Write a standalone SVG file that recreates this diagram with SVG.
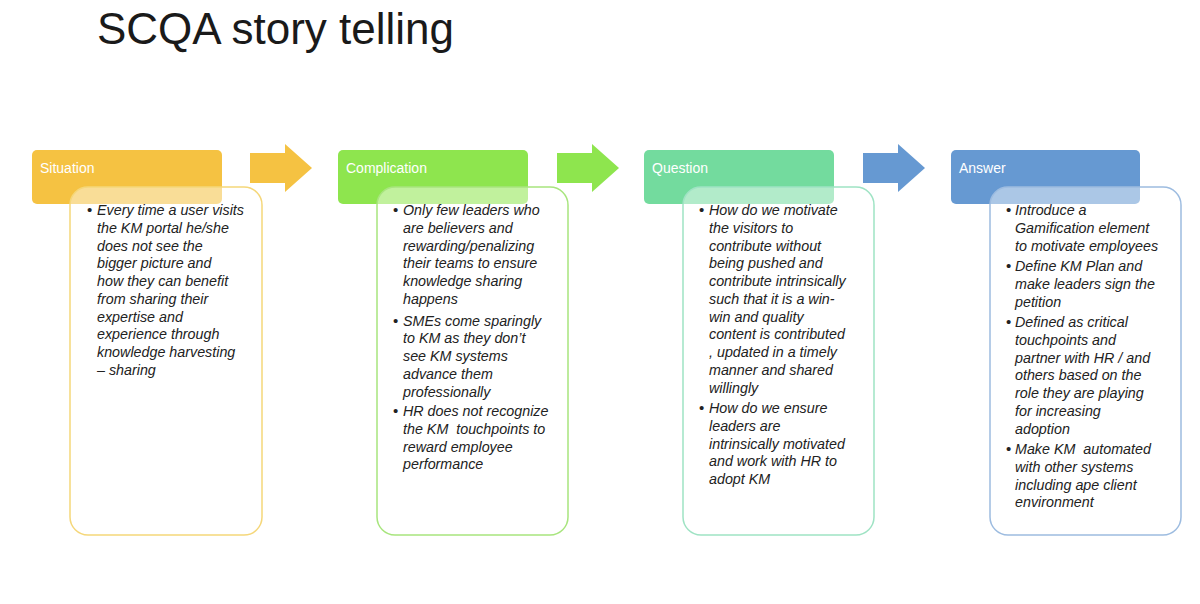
<svg xmlns="http://www.w3.org/2000/svg" width="1200" height="604" viewBox="0 0 1200 604">
<style>
.title{font-family:"Liberation Sans",Arial,sans-serif;font-size:44px;fill:#1a1a1a}
.hdr{font-family:"Liberation Sans",Arial,sans-serif;font-size:14px;fill:#ffffff}
.body{font-family:"Liberation Sans",Arial,sans-serif;font-size:14.3px;font-style:italic;fill:#222222;white-space:pre}
.blt{font-family:"Liberation Sans",Arial,sans-serif;font-size:15px;fill:#222222}
.card{fill:#ffffff;fill-opacity:0.45;stroke-width:1.5}
</style>
<rect width="1200" height="604" fill="#ffffff"/>
<text class="title" x="97" y="44">SCQA story telling</text>

<g id="connectors">
<path d="M250,153 H285 V144 L312,168 L285,192 V183 H250 Z" fill="#F5C242"/>
<path d="M557,153 H592 V144 L619,168 L592,192 V183 H557 Z" fill="#8EE54E"/>
<path d="M863,153 H898 V144 L925,168 L898,192 V183 H863 Z" fill="#6699D2"/>
</g>

<g id="situation">
<rect x="32" y="150" width="190" height="54" rx="5" fill="#F5C242"/>
<text class="hdr" x="40" y="173">Situation</text>
<rect class="card" x="70" y="187" width="192" height="348" rx="18" stroke="#F5D77A"/>
<text class="blt"><tspan x="87" y="215">•</tspan></text>
<text class="body">
<tspan x="97" y="215">Every time a user visits</tspan>
<tspan x="97" dy="17.75">the KM portal he/she</tspan>
<tspan x="97" dy="17.75">does not see the</tspan>
<tspan x="97" dy="17.75">bigger picture and</tspan>
<tspan x="97" dy="17.75">how they can benefit</tspan>
<tspan x="97" dy="17.75">from sharing their</tspan>
<tspan x="97" dy="17.75">expertise and</tspan>
<tspan x="97" dy="17.75">experience through</tspan>
<tspan x="97" dy="17.75">knowledge harvesting</tspan>
<tspan x="97" dy="17.75">– sharing</tspan>
</text>
</g>

<g id="complication">
<rect x="338" y="150" width="190" height="54" rx="5" fill="#8EE54E"/>
<text class="hdr" x="346" y="173">Complication</text>
<rect class="card" x="377" y="187" width="191" height="348" rx="18" stroke="#A8E57E"/>
<text class="blt"><tspan x="393" y="215">•</tspan><tspan x="393" y="325.5">•</tspan><tspan x="393" y="416">•</tspan></text>
<text class="body">
<tspan x="403" y="215">Only few leaders who</tspan>
<tspan x="403" dy="17.75">are believers and</tspan>
<tspan x="403" dy="17.75">rewarding/penalizing</tspan>
<tspan x="403" dy="17.75">their teams to ensure</tspan>
<tspan x="403" dy="17.75">knowledge sharing</tspan>
<tspan x="403" dy="17.75">happens</tspan>
<tspan x="403" y="325.5">SMEs come sparingly</tspan>
<tspan x="403" dy="17.75">to KM as they don’t</tspan>
<tspan x="403" dy="17.75">see KM systems</tspan>
<tspan x="403" dy="17.75">advance them</tspan>
<tspan x="403" dy="17.75">professionally</tspan>
<tspan x="403" y="416">HR does not recognize</tspan>
<tspan x="403" dy="17.75">the KM  touchpoints to</tspan>
<tspan x="403" dy="17.75">reward employee</tspan>
<tspan x="403" dy="17.75">performance</tspan>
</text>
</g>

<g id="question">
<rect x="644" y="150" width="190" height="54" rx="5" fill="#73DB9E"/>
<text class="hdr" x="652" y="173">Question</text>
<rect class="card" x="683" y="187" width="191" height="348" rx="18" stroke="#9FE3C4"/>
<text class="blt"><tspan x="699" y="215">•</tspan><tspan x="699" y="413">•</tspan></text>
<text class="body">
<tspan x="709" y="215">How do we motivate</tspan>
<tspan x="709" dy="17.75">the visitors to</tspan>
<tspan x="709" dy="17.75">contribute without</tspan>
<tspan x="709" dy="17.75">being pushed and</tspan>
<tspan x="709" dy="17.75">contribute intrinsically</tspan>
<tspan x="709" dy="17.75">such that it is a win-</tspan>
<tspan x="709" dy="17.75">win and quality</tspan>
<tspan x="709" dy="17.75">content is contributed</tspan>
<tspan x="709" dy="17.75">, updated in a timely</tspan>
<tspan x="709" dy="17.75">manner and shared</tspan>
<tspan x="709" dy="17.75">willingly</tspan>
<tspan x="709" y="413">How do we ensure</tspan>
<tspan x="709" dy="17.75">leaders are</tspan>
<tspan x="709" dy="17.75">intrinsically motivated</tspan>
<tspan x="709" dy="17.75">and work with HR to</tspan>
<tspan x="709" dy="17.75">adopt KM</tspan>
</text>
</g>

<g id="answer">
<rect x="951" y="150" width="189" height="54" rx="5" fill="#6699D2"/>
<text class="hdr" x="959" y="173">Answer</text>
<rect class="card" x="990" y="187" width="191" height="348" rx="18" stroke="#9DBCE0"/>
<text class="blt"><tspan x="1006" y="215">•</tspan><tspan x="1006" y="271">•</tspan><tspan x="1006" y="327">•</tspan><tspan x="1006" y="454">•</tspan></text>
<text class="body">
<tspan x="1015" y="215">Introduce a</tspan>
<tspan x="1015" dy="17.75">Gamification element</tspan>
<tspan x="1015" dy="17.75">to motivate employees</tspan>
<tspan x="1015" y="271">Define KM Plan and</tspan>
<tspan x="1015" dy="17.75">make leaders sign the</tspan>
<tspan x="1015" dy="17.75">petition</tspan>
<tspan x="1015" y="327">Defined as critical</tspan>
<tspan x="1015" dy="17.75">touchpoints and</tspan>
<tspan x="1015" dy="17.75">partner with HR / and</tspan>
<tspan x="1015" dy="17.75">others based on the</tspan>
<tspan x="1015" dy="17.75">role they are playing</tspan>
<tspan x="1015" dy="17.75">for increasing</tspan>
<tspan x="1015" dy="17.75">adoption</tspan>
<tspan x="1015" y="454">Make KM  automated</tspan>
<tspan x="1015" dy="17.75">with other systems</tspan>
<tspan x="1015" dy="17.75">including ape client</tspan>
<tspan x="1015" dy="17.75">environment</tspan>
</text>
</g>
</svg>
